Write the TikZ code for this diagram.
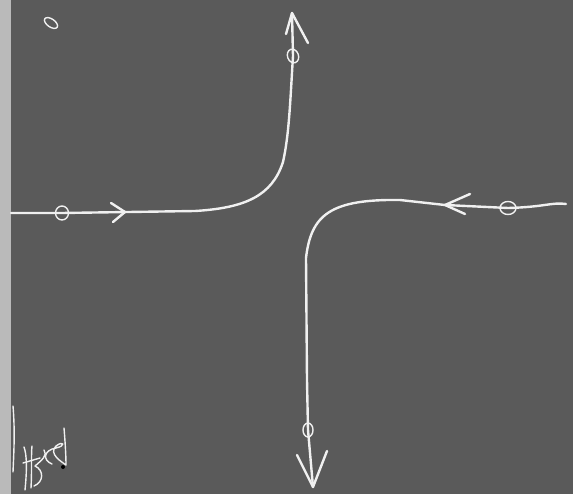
\documentclass[tikz,border=0pt]{standalone}
\usepackage{xcolor}
\usepackage{tikz}
\usetikzlibrary{shapes.geometric, arrows.meta, calc}

\definecolor{board}{RGB}{90,90,90}
\definecolor{board_edge}{RGB}{186,186,186}
\definecolor{chalk_white}{RGB}{240,240,240}

\begin{document}
\begin{tikzpicture}[x=1pt, y=-1pt,
            chalk/.style={draw=chalk_white, line width=2.4pt, line cap=round, line join=round},
            chalk_thin/.style={chalk, line width=1.4pt},
            zero_mark/.style={ellipse, draw=chalk_white, line width=1.4pt, inner sep=0pt,
            minimum width=13pt, minimum height=14pt}
        ]

            % Board and photo edge
            \fill[board] (0,0) rectangle (573,494);
            \fill[board_edge] (0,0) rectangle (11,494);
            \useasboundingbox (0,0) rectangle (573,494);

            % End points and bends
            \coordinate (in_left)   at (11,213);
            \coordinate (out_top)   at (292,13);
            \coordinate (in_right)  at (566,204);
            \coordinate (out_down)  at (313,487);

            % Zero marks on the lines
            \node[zero_mark] (z_left)  at (62,213)  {};
            \node[zero_mark, minimum width=11pt, rotate=20] (z_top) at (293,56) {};
            \node[zero_mark, minimum width=16pt, minimum height=13pt] (z_right) at (508,208) {};
            \node[zero_mark, minimum width=10pt] (z_down) at (308,430) {};
            \node[zero_mark, minimum width=15pt, minimum height=8pt, rotate=-35] (z_corner) at (51,23) {};

            % Left line turning up
            \draw[chalk] (in_left) -- (z_left.center) -- (195,211)
                .. controls (245,208) and (272,196) .. (283,162)
                .. controls (289,135) and (290,105) .. (z_top.center) -- (out_top);
            \draw[chalk] (out_top) -- (286,34);
            \draw[chalk] (out_top) -- (308,43);
            \draw[chalk] (111,203) -- (125,212) -- (113,222);

            % Right line turning down
            \draw[chalk] (in_right) .. controls (552,202) and (545,207) .. (z_right.center)
                -- (445,205) -- (400,200)
                .. controls (330,199) and (311,215) .. (306,258)
                -- (307,380) -- (z_down.center) -- (out_down);
            \draw[chalk] (297,455) -- (out_down) -- (327,451);
            \draw[chalk] (470,194) -- (445,205) -- (465,214);

            % Initials in the corner
            \draw[chalk_thin] (13,406) .. controls (15,430) and (14,450) .. (13,472);
            \draw[chalk_thin] (25,490) .. controls (27,470) and (27,455) .. (24,447);
            \draw[chalk_thin] (31,488) .. controls (32,470) and (31,455) .. (32,446);
            \draw[chalk_thin] (23,463) -- (40,458);
            \draw[chalk_thin] (34,486) .. controls (44,482) and (44,470) .. (35,466)
                .. controls (42,460) and (48,455) .. (44,450);
            \draw[chalk_thin] (52,464) .. controls (42,460) and (44,450) .. (56,448)
                .. controls (66,446) and (64,440) .. (56,446)
                .. controls (48,454) and (62,462) .. (66,465)
                .. controls (66,455) and (65,440) .. (64,428);
            \fill[black] (63,467) circle (2pt);

        \end{tikzpicture}
\end{document}
